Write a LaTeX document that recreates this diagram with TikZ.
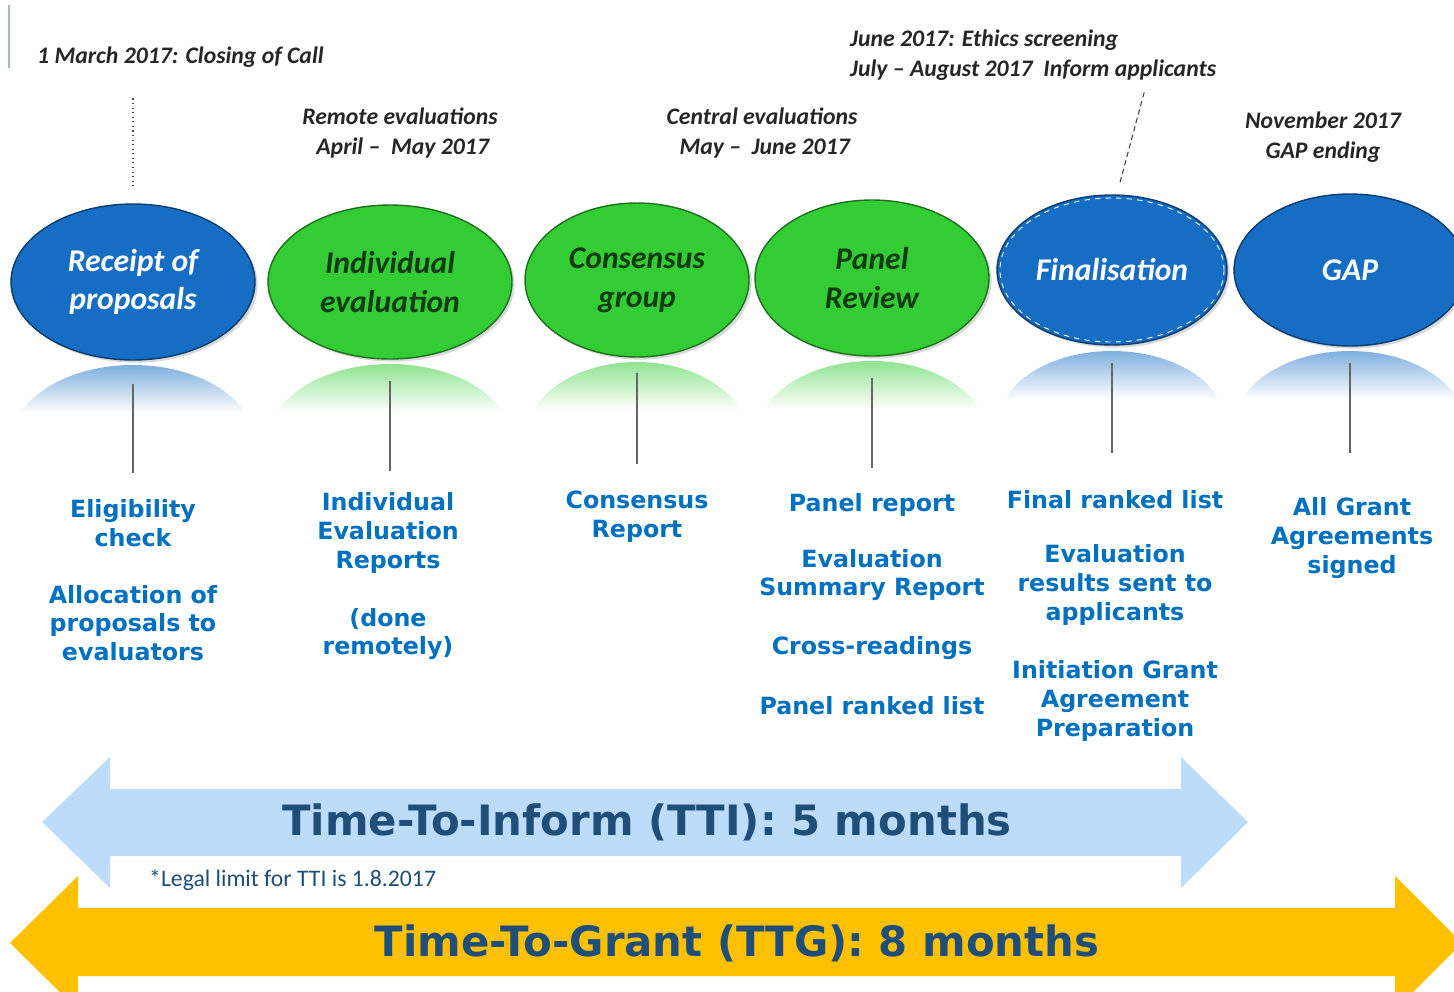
\documentclass[tikz,border=0pt]{standalone}
\usepackage{fontspec}
\setmainfont{Carlito}
\newfontfamily\vfont{DejaVu Sans}
\usetikzlibrary{positioning,shapes.geometric,shadows}
\definecolor{phaseblue}{RGB}{22,110,196}
\definecolor{phasegreen}{RGB}{52,204,52}
\definecolor{greentext}{RGB}{16,58,16}
\definecolor{labelblue}{RGB}{0,112,192}
\definecolor{darkblue}{RGB}{31,78,121}
\definecolor{ttiblue}{RGB}{189,220,250}
\definecolor{ttggold}{RGB}{255,192,0}
\tikzset{
  phase/.style={ellipse, fill=#1, draw=#1!55!black, line width=0.8pt, inner sep=0pt,
    align=center, font=\fontsize{18}{22}\selectfont\bfseries\itshape,
    drop shadow={shadow xshift=1.5pt, shadow yshift=-1.5pt, opacity=.3}},
  when/.style={align=center, text=black!85, font=\fontsize{13.5}{17}\selectfont\bfseries\itshape},
  task/.style={align=center, text=labelblue, font=\vfont\bfseries\fontsize{13.5}{16.4}\selectfont},
  span/.style={text=darkblue, font=\vfont\bfseries\fontsize{23.8}{26}\selectfont},
  stem/.style={draw=black!60, line width=0.9pt},
  marker/.style={draw=black!75, densely dashed, line width=0.6pt}
}
\begin{document}
\begin{tikzpicture}[x=0.02cm,y=-0.02cm]
        \useasboundingbox (0,0) rectangle (1454,991);
        \draw[ttiblue!60!gray, line width=0.6pt] (9,5) -- (9,68);
        % reflections
        \foreach \cx/\t/\rx/\ry/\c in {133/365/122/78/phaseblue, 390/364/122/77/phasegreen,
            637/362/112/77/phasegreen, 872/361/117/78/phasegreen, 1112/351/115/75/phaseblue,
            1350/351/116/76/phaseblue} {
            \begin{scope}
                \clip (\cx,\t+\ry) ellipse [x radius=\rx, y radius=\ry];
                \shade[top color=\c!55, bottom color=white] (\cx-\rx,\t) rectangle (\cx+\rx,\t+48);
            \end{scope}
        }
        % phases
        \node[phase=phaseblue, text=white, minimum width=4.88cm, minimum height=3.12cm] (rec) at (133,282) {Receipt of\\proposals};
        \node[phase=phasegreen, text=greentext, minimum width=4.88cm, minimum height=3.08cm] (ind) at (390,282) {Individual\\evaluation};
        \node[phase=phasegreen, text=greentext, minimum width=4.48cm, minimum height=3.08cm] (con) at (637,280) {Consensus\\group};
        \node[phase=phasegreen, text=greentext, minimum width=4.68cm, minimum height=3.12cm] (pan) at (872,278) {Panel\\Review};
        \node[phase=phaseblue, text=white, minimum width=4.6cm, minimum height=3cm] (fin) at (1112,270) {Finalisation};
        \node[phase=phaseblue, text=white, minimum width=4.64cm, minimum height=3.04cm] (gap) at (1350,270) {GAP};
        \draw[white, dashed, line width=0.5pt] (fin.center) ellipse [x radius=112, y radius=72];
        % dates
        \node[when, anchor=west] (closing) at (31,57) {1 March 2017: Closing of Call};
        \node[when] (remote) at (400,133) {Remote evaluations\\\ April -- \ May 2017};
        \node[when] (central) at (762,133) {Central evaluations\\\ May -- \ June 2017};
        \node[when, anchor=west, align=left] (ethics) at (844,55) {June 2017: Ethics screening\\July -- August 2017 \ Inform applicants};
        \node[when] (november) at (1323,137) {November 2017\\GAP ending};
        \draw[marker, dotted, line width=0.9pt] (rec.north) ++(0,-17) -- ++(0,-91);
        \draw[marker] (fin.north) ++(8,-12) -- ++(25,-93);
        % stems
        \foreach \n/\a/\l in {rec/23/89, ind/21/90, con/15/91, pan/21/90, fin/17/90, gap/16/90}
            \draw[stem] (\n.south) ++(0,\a) -- ++(0,\l);
        % tasks
        \node[task] (elig) at (133,523) {Eligibility\\check};
        \node[task] (alloc) at (133,623) {Allocation of\\proposals to\\evaluators};
        \node[task] (ier) at (388,533) {Individual\\Evaluation\\Reports};
        \node[task] (done) at (388,634) {(done\\remotely)};
        \node[task] (crep) at (637,517) {Consensus\\Report};
        \node[task] (prep) at (872,505) {Panel report};
        \node[task] (esr) at (872,575) {Evaluation\\Summary Report};
        \node[task] (cross) at (872,648) {Cross-readings};
        \node[task] (prl) at (872,706) {Panel ranked list};
        \node[task] (frl) at (1115,500) {Final ranked list};
        \node[task] (eres) at (1115,585) {Evaluation\\results sent to\\applicants};
        \node[task] (init) at (1115,701) {Initiation Grant\\Agreement\\Preparation};
        \node[task] (signed) at (1352,538) {All Grant\\Agreements\\signed};
        % spans
        \fill[ttiblue] (42,822) -- (110,757) -- (110,789) -- (1181,789) -- (1181,757) -- (1248,822)
            -- (1181,888) -- (1181,856) -- (110,856) -- (110,888) -- cycle;
        \fill[ttggold] (10,943) -- (78,876) -- (78,908) -- (1395,908) -- (1395,876) -- (1462,943)
            -- (1395,1010) -- (1395,976) -- (78,976) -- (78,1010) -- cycle;
        \node[span] (tti) at (647,822) {Time-To-Inform (TTI): 5 months};
        \node[span] (ttg) at (737,943) {Time-To-Grant (TTG): 8 months};
        \node[anchor=west, text=darkblue, font=\fontsize{13.5}{15}\selectfont] (legal) at (143,880) {*Legal limit for TTI is 1.8.2017};
\end{tikzpicture}
\end{document}
